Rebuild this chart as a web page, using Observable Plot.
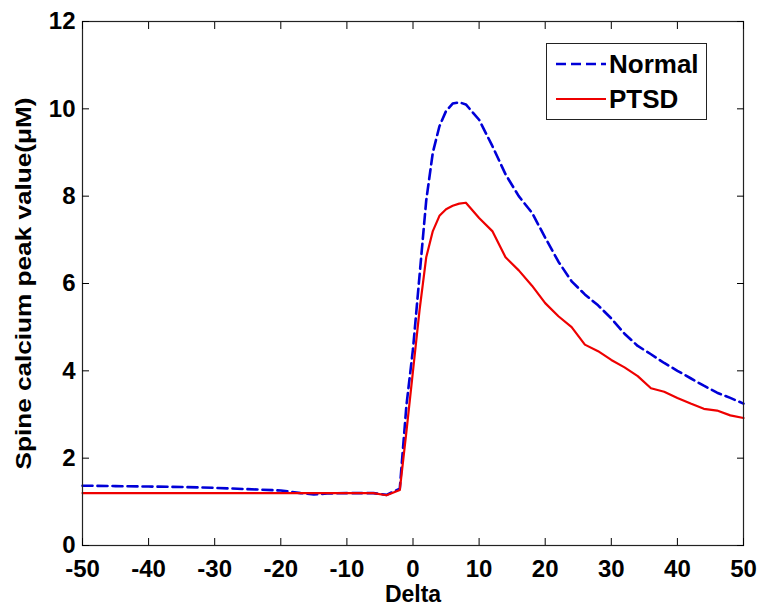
<!DOCTYPE html>
<html><head><meta charset="utf-8">
<script src="https://cdn.jsdelivr.net/npm/d3@7"></script>
<script src="https://cdn.jsdelivr.net/npm/@observablehq/plot@0.6"></script>
<style>
html,body{margin:0;padding:0;background:#fff;}
#wrap{position:relative;width:761px;height:609px;}
#legend{position:absolute;left:546px;top:43px;width:159px;height:75px;border:1.3px solid #222;background:#fff;}
#legend svg{display:block;}
</style></head><body><div id="wrap"><div id="legend"></div></div>
<script>
const delta  = [-50,-45,-40,-35,-30,-25,-20,-17,-15,-13,-10,-6,-4,-2,-1,0,1,2,3,4,5,6,7,8,10,12,14,16,18,20,22,24,26,28,30,32,34,36,38,40,42,44,46,48,50];
const normal = [1.37,1.36,1.35,1.34,1.32,1.29,1.26,1.2,1.17,1.19,1.2,1.2,1.16,1.3,3.2,4.5,6.2,7.9,9.0,9.6,9.95,10.12,10.15,10.1,9.75,9.15,8.5,8.0,7.62,7.05,6.5,6.05,5.75,5.5,5.2,4.85,4.57,4.38,4.18,4.0,3.83,3.66,3.5,3.38,3.25];
const ptsd   = [1.2,1.2,1.2,1.2,1.2,1.2,1.2,1.2,1.2,1.2,1.2,1.2,1.15,1.27,2.6,4.0,5.4,6.6,7.2,7.55,7.7,7.78,7.83,7.85,7.5,7.2,6.6,6.3,5.95,5.55,5.25,5.0,4.6,4.45,4.25,4.08,3.88,3.6,3.52,3.38,3.25,3.13,3.09,2.98,2.92];
const xTicks = [-50,-40,-30,-20,-10,0,10,20,30,40,50];
const yTicks = [0,2,4,6,8,10,12];
const seriesNames = ["Normal","PTSD"];
const seriesColors = ["#0000d8","#ee0000"];
const xLabel = "Delta";
const yLabel = "Spine calcium peak value(\u03bcM)";

const rowsN = delta.map((d,i)=>({delta:d, value:normal[i], series:seriesNames[0]}));
const rowsP = delta.map((d,i)=>({delta:d, value:ptsd[i], series:seriesNames[1]}));

const font = '"Liberation Sans", Arial, sans-serif';
const plot = Plot.plot({
  width: 761, height: 609,
  marginLeft: 82, marginRight: 18, marginTop: 21, marginBottom: 64,
  style: {fontFamily: font, fontWeight: "bold", fontSize: "24px", color: "#000", background: "#fff", overflow: "visible"},
  x: {domain: [-50, 50]},
  y: {domain: [0, 12]},
  marks: [
    Plot.line(rowsN, {x: "delta", y: "value", stroke: seriesColors[0], strokeWidth: 2.6, strokeDasharray: "10,5"}),
    Plot.line(rowsP, {x: "delta", y: "value", stroke: seriesColors[1], strokeWidth: 2.2}),
    Plot.frame({stroke: "#222", strokeWidth: 1.2}),
    Plot.axisX(xTicks, {anchor: "bottom", tickSize: -7, tickPadding: 21, label: null, tickFormat: d => String(d)}),
    Plot.axisX(xTicks, {anchor: "top", tickSize: -7, fill: "none", label: null}),
    Plot.axisY(yTicks, {anchor: "left", tickSize: -7, tickPadding: 14, label: null, tickFormat: d => String(d)}),
    Plot.axisY(yTicks, {anchor: "right", tickSize: -7, fill: "none", label: null}),
    Plot.text([xLabel], {frameAnchor: "bottom", textAnchor: "middle", dy: 56, lineAnchor: "bottom", fontSize: 23}),
    Plot.text([yLabel], {frameAnchor: "left", textAnchor: "middle", dx: -67, rotate: -90, lineAnchor: "top", fontSize: 22})
  ]
});
document.getElementById("wrap").prepend(plot);
d3.select(plot).selectAll("text, tspan").filter(function(){ return this.textContent.indexOf("Spine") === 0 && this.childElementCount === 0; })
  .attr("textLength", 372).attr("lengthAdjust", "spacingAndGlyphs");

// legend
const lg = d3.select("#legend").append("svg").attr("width", 159).attr("height", 75)
  .style("font-family", font).style("font-weight", "bold").style("font-size", "26px");
const ys = [20, 55];
seriesNames.forEach((name, i) => {
  const l = lg.append("line").attr("x1", 9).attr("x2", 59).attr("y1", ys[i]).attr("y2", ys[i])
    .attr("stroke", seriesColors[i]).attr("stroke-width", i === 0 ? 2.6 : 2.2);
  if (i === 0) l.attr("stroke-dasharray", "10,5");
  lg.append("text").attr("x", 62).attr("y", ys[i] + 9).text(name);
});
</script>
</body></html>
